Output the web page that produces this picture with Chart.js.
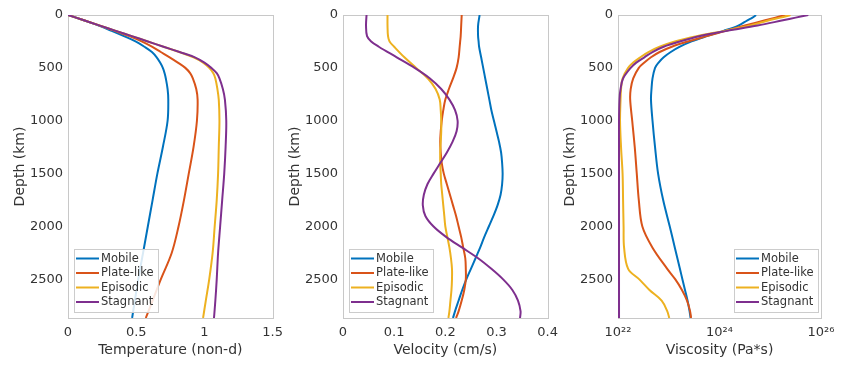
<!DOCTYPE html>
<html>
<head>
<meta charset="utf-8">
<script src="https://cdn.jsdelivr.net/npm/chart.js@4.4.1/dist/chart.umd.min.js"></script>
<style>
  body { margin: 0; background: #fff; }
  #wrap { position: relative; width: 844px; height: 365px; }
  #wrap canvas { position: absolute; top: 0; }
</style>
</head>
<body>
<div id="wrap">
  <canvas id="tempChart" width="290" height="365" style="left:0px"></canvas>
  <canvas id="velChart" width="290" height="365" style="left:275px"></canvas>
  <canvas id="viscChart" width="294" height="365" style="left:550px"></canvas>
</div>
<script>
// series names + colours (matlab default order)
const seriesNames = ['Mobile', 'Plate-like', 'Episodic', 'Stagnant'];
const seriesColors = ['#0072BD', '#D95319', '#EDB120', '#7E2F8E'];

const depthTicks = [0, 500, 1000, 1500, 2000, 2500];
const depthMax = 2865;

// temperature panel
const tempDepth = [0, 50, 100, 150, 200, 250, 300, 350, 400, 450, 500, 550, 600, 700, 800, 1000, 1250, 1500, 1750, 2000, 2250, 2500, 2700, 2865];
const tempMobile = [0, 0.115, 0.225, 0.32, 0.41, 0.495, 0.56, 0.615, 0.65, 0.675, 0.695, 0.708, 0.717, 0.73, 0.735, 0.73, 0.695, 0.655, 0.62, 0.585, 0.55, 0.515, 0.49, 0.47];
const tempPlate = [0, 0.117, 0.233, 0.345, 0.45, 0.54, 0.615, 0.68, 0.745, 0.805, 0.86, 0.895, 0.915, 0.94, 0.95, 0.945, 0.92, 0.885, 0.85, 0.81, 0.76, 0.68, 0.62, 0.57];
const tempEpisodic = [0, 0.117, 0.234, 0.35, 0.468, 0.585, 0.70, 0.815, 0.92, 0.99, 1.035, 1.065, 1.08, 1.095, 1.105, 1.11, 1.105, 1.10, 1.09, 1.075, 1.06, 1.035, 1.01, 0.99];
const tempStagnant = [0, 0.117, 0.234, 0.35, 0.468, 0.585, 0.70, 0.818, 0.93, 1.0, 1.05, 1.09, 1.11, 1.135, 1.15, 1.16, 1.155, 1.145, 1.13, 1.115, 1.10, 1.09, 1.08, 1.07];
const tempTicks = [0, 0.5, 1, 1.5];

// velocity panel
const velDepth = [0, 100, 200, 250, 300, 400, 500, 600, 700, 800, 900, 1000, 1100, 1200, 1300, 1400, 1500, 1600, 1700, 1800, 1900, 2000, 2100, 2200, 2300, 2400, 2500, 2600, 2700, 2800, 2865];
const velMobile = [0.267, 0.264, 0.264, 0.265, 0.266, 0.27, 0.274, 0.278, 0.282, 0.286, 0.29, 0.295, 0.3, 0.305, 0.309, 0.311, 0.312, 0.311, 0.308, 0.302, 0.294, 0.285, 0.276, 0.268, 0.259, 0.25, 0.241, 0.233, 0.226, 0.219, 0.215];
const velPlate = [0.232, 0.231, 0.23, 0.229, 0.228, 0.226, 0.222, 0.215, 0.207, 0.2, 0.196, 0.193, 0.191, 0.19, 0.191, 0.193, 0.197, 0.203, 0.209, 0.215, 0.221, 0.226, 0.231, 0.235, 0.239, 0.24, 0.24, 0.237, 0.232, 0.226, 0.221];
const velEpisodic = [0.087, 0.087, 0.088, 0.091, 0.10, 0.12, 0.143, 0.166, 0.181, 0.189, 0.191, 0.192, 0.192, 0.191, 0.19, 0.19, 0.191, 0.192, 0.194, 0.196, 0.198, 0.2, 0.204, 0.208, 0.211, 0.213, 0.213, 0.212, 0.21, 0.208, 0.206];
const velStagnant = [0.046, 0.045, 0.047, 0.055, 0.07, 0.105, 0.14, 0.17, 0.192, 0.208, 0.219, 0.224, 0.222, 0.214, 0.203, 0.19, 0.177, 0.165, 0.158, 0.156, 0.161, 0.177, 0.202, 0.233, 0.264, 0.29, 0.313, 0.331, 0.342, 0.347, 0.346];
const velTicks = [0, 0.1, 0.2, 0.3, 0.4];

// viscosity panel (log10 of Pa*s)
const viscDepth = [0, 25, 50, 100, 150, 200, 250, 300, 350, 400, 450, 500, 600, 700, 800, 1000, 1250, 1500, 1750, 2000, 2200, 2400, 2500, 2600, 2700, 2800, 2865];
const viscMobile = [24.72, 24.65, 24.55, 24.37, 24.08, 23.75, 23.45, 23.22, 23.04, 22.9, 22.8, 22.73, 22.68, 22.66, 22.65, 22.68, 22.73, 22.79, 22.89, 23.02, 23.12, 23.22, 23.27, 23.32, 23.37, 23.41, 23.43];
const viscPlate = [25.3, 25.1, 24.9, 24.5, 24.12, 23.75, 23.38, 23.06, 22.82, 22.65, 22.52, 22.41, 22.3, 22.25, 22.24, 22.28, 22.33, 22.37, 22.41, 22.48, 22.68, 22.97, 23.13, 23.26, 23.36, 23.42, 23.44];
const viscEpisodic = [25.4, 25.2, 24.98, 24.6, 24.1, 23.55, 23.12, 22.82, 22.6, 22.44, 22.3, 22.2, 22.09, 22.06, 22.05, 22.04, 22.06, 22.09, 22.1, 22.11, 22.12, 22.2, 22.42, 22.62, 22.86, 22.97, 23.01];
const viscStagnant = [25.75, 25.5, 25.25, 24.75, 24.15, 23.6, 23.22, 22.9, 22.68, 22.52, 22.36, 22.25, 22.1, 22.05, 22.03, 22.02, 22.02, 22.02, 22.02, 22.02, 22.02, 22.02, 22.02, 22.02, 22.02, 22.02, 22.02];
const viscTicks = [1e22, 1e24, 1e26];
const viscTickLabels = ['10²²', '10²⁴', '10²⁶'];

const FONT = 'DejaVu Sans';
const TXT = '#333';

// frame round the plot area
const framePlugin = {
  id: 'frame',
  beforeDatasetsDraw(chart) {
    const a = chart.chartArea, ctx = chart.ctx;
    ctx.save();
    ctx.strokeStyle = '#c8c8c8';
    ctx.lineWidth = 1;
    ctx.strokeRect(Math.round(a.left) + 0.5, Math.round(a.top) + 0.5, Math.round(a.right - a.left), Math.round(a.bottom - a.top));
    ctx.restore();
  }
};

// legend box drawn inside the plot area
const boxLegend = {
  id: 'boxLegend',
  afterDatasetsDraw(chart, args, opts) {
    const a = chart.chartArea, ctx = chart.ctx;
    const w = 84, h = 63;
    const x0 = opts.side === 'right' ? a.right - 3 - w : a.left + 6;
    const y0 = a.bottom - 6 - h;
    ctx.save();
    ctx.fillStyle = 'rgba(255,255,255,0.85)';
    ctx.strokeStyle = '#cccccc';
    ctx.lineWidth = 1;
    ctx.fillRect(x0 + 0.5, y0 + 0.5, w, h);
    ctx.strokeRect(x0 + 0.5, y0 + 0.5, w, h);
    ctx.font = '11.5px "' + FONT + '"';
    ctx.textBaseline = 'middle';
    ctx.textAlign = 'left';
    seriesNames.forEach((name, i) => {
      const y = y0 + 9.5 + i * 14.5;
      ctx.strokeStyle = seriesColors[i];
      ctx.lineWidth = 2;
      ctx.beginPath();
      ctx.moveTo(x0 + 2, y);
      ctx.lineTo(x0 + 25, y);
      ctx.stroke();
      ctx.fillStyle = TXT;
      ctx.fillText(name, x0 + 27, y + 0.5);
    });
    ctx.restore();
  }
};

function makeSets(depth, series, toX) {
  return series.map((vals, i) => ({
    label: seriesNames[i],
    data: depth.map((d, j) => ({ x: toX ? toX(vals[j]) : vals[j], y: d })),
    borderColor: seriesColors[i],
    backgroundColor: seriesColors[i],
    borderWidth: 2,
    showLine: true,
    pointRadius: 0,
    tension: 0.35,
    order: 3 - i
  }));
}

function makePanel(id, opts) {
  return new Chart(document.getElementById(id), {
    type: 'scatter',
    data: { datasets: opts.datasets },
    plugins: [framePlugin, boxLegend],
    options: {
      responsive: false,
      animation: false,
      devicePixelRatio: 1,
      layout: { padding: { top: 15, right: opts.padRight, left: 0, bottom: 0 } },
      plugins: {
        legend: { display: false },
        tooltip: { enabled: false },
        boxLegend: { side: opts.legendSide }
      },
      scales: {
        x: {
          type: opts.xType,
          min: opts.xMin,
          max: opts.xMax,
          grid: { display: false, drawTicks: false },
          border: { display: false },
          afterBuildTicks: s => { s.ticks = opts.xTicks.map(v => ({ value: v })); },
          afterFit: s => { s.height = 47; },
          ticks: {
            padding: 7,
            color: TXT,
            font: { family: FONT, size: 13 },
            maxRotation: 0,
            callback: opts.xLabel
          },
          title: {
            display: true,
            text: opts.xTitle,
            color: TXT,
            font: { family: FONT, size: 14 },
            padding: { top: 0, bottom: 6 }
          }
        },
        y: {
          type: 'linear',
          reverse: true,
          min: 0,
          max: depthMax,
          grid: { display: false, drawTicks: false },
          border: { display: false },
          afterBuildTicks: s => { s.ticks = depthTicks.map(v => ({ value: v })); },
          afterFit: s => { s.width = 68; },
          ticks: {
            padding: 5,
            color: TXT,
            font: { family: FONT, size: 13 },
            callback: v => String(v)
          },
          title: {
            display: true,
            text: 'Depth (km)',
            color: TXT,
            font: { family: FONT, size: 14 },
            padding: { top: 12, bottom: 0 }
          }
        }
      }
    }
  });
}

makePanel('tempChart', {
  datasets: makeSets(tempDepth, [tempMobile, tempPlate, tempEpisodic, tempStagnant]),
  xType: 'linear', xMin: 0, xMax: 1.5, xTicks: tempTicks,
  xLabel: v => String(v),
  xTitle: 'Temperature (non-d)',
  padRight: 15, legendSide: 'left'
});

makePanel('velChart', {
  datasets: makeSets(velDepth, [velMobile, velPlate, velEpisodic, velStagnant]),
  xType: 'linear', xMin: 0, xMax: 0.4, xTicks: velTicks,
  xLabel: v => String(v),
  xTitle: 'Velocity (cm/s)',
  padRight: 16, legendSide: 'left'
});

makePanel('viscChart', {
  datasets: makeSets(viscDepth, [viscMobile, viscPlate, viscEpisodic, viscStagnant], e => Math.pow(10, e)),
  xType: 'logarithmic', xMin: 1e22, xMax: 1e26, xTicks: viscTicks,
  xLabel: (v, i) => viscTickLabels[i],
  xTitle: 'Viscosity (Pa*s)',
  padRight: 23, legendSide: 'right'
});
</script>
</body>
</html>
